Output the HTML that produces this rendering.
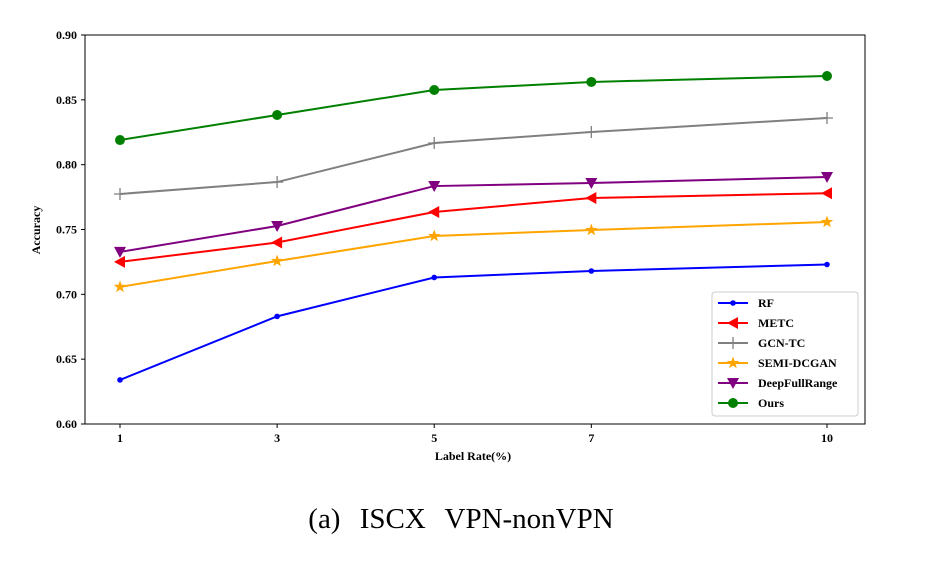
<!DOCTYPE html>
<html><head><meta charset="utf-8"><style>
body{margin:0;background:#fff;width:934px;height:572px;overflow:hidden}
svg{font-family:"Liberation Serif",serif}
</style></head><body>
<svg id="chart" width="934" height="572" xmlns="http://www.w3.org/2000/svg">
<rect x="85" y="35" width="780" height="389" fill="none" stroke="#000" stroke-width="1"/>
<g id="axes"></g><g id="series"></g><g id="legend"></g>
<text x="473" y="460" font-size="12" font-weight="bold" text-anchor="middle">Label Rate(%)</text>
<text x="40" y="230" font-size="12" font-weight="bold" text-anchor="middle" transform="rotate(-90 40 230)">Accuracy</text>
<text x="461" y="528" font-size="29" word-spacing="12" text-anchor="middle">(a) ISCX VPN-nonVPN</text>
</svg>
<script>
const categories=[1,3,5,7,10];
const yTicks=[0.60,0.65,0.70,0.75,0.80,0.85,0.90];
const seriesNames=["RF","METC","GCN-TC","SEMI-DCGAN","DeepFullRange","Ours"];
const seriesColors=["#0000ff","#ff0000","#808080","#ffa500","#800080","#008000"];
const seriesMarkers=["dot","tri-left","plus","star","tri-down","circle"];
const rf=[0.634,0.683,0.713,0.718,0.723];
const metc=[0.725,0.740,0.7635,0.7743,0.778];
const gcn=[0.7774,0.7866,0.8167,0.8252,0.836];
const semi=[0.7057,0.7257,0.745,0.7496,0.7558];
const deep=[0.7327,0.7527,0.7835,0.7859,0.7905];
const ours=[0.819,0.8383,0.8576,0.8638,0.8684];
const allSeries=[rf,metc,gcn,semi,deep,ours];
const NS="http://www.w3.org/2000/svg";
const xs=v=>120+(v-1)*(827-120)/9;
const ys=v=>424-(v-0.6)/0.3*389;
function el(t,a,p){const e=document.createElementNS(NS,t);for(const k in a)e.setAttribute(k,a[k]);p.appendChild(e);return e;}
const axes=document.getElementById('axes');
categories.forEach(c=>{
 const t=el('line',{x1:xs(c),x2:xs(c),y1:424,y2:428,stroke:'#000'},axes);
 
 
 const l=el('text',{x:xs(c),y:442,'font-size':12,'font-weight':'bold','text-anchor':'middle'},axes);l.textContent=c;
 
 
});
yTicks.forEach(v=>{
 const t=el('line',{x1:81,x2:85,y1:ys(v),y2:ys(v),stroke:'#000'},axes);
 
 
 const l=el('text',{x:77,y:ys(v)+4,'font-size':12,'font-weight':'bold','text-anchor':'end'},axes);l.textContent=v.toFixed(2);
 
 
});
function marker(type,x,y,c,p){
 let m;
 if(type==='dot')m=el('circle',{cx:x,cy:y,r:2.8,fill:c},p);
 else if(type==='circle')m=el('circle',{cx:x,cy:y,r:5,fill:c},p);
 else if(type==='tri-left')m=el('polygon',{points:`${x-6},${y} ${x+5},${y-6} ${x+5},${y+6}`,fill:c},p);
 else if(type==='tri-down')m=el('polygon',{points:`${x-6},${y-5} ${x+6},${y-5} ${x},${y+6}`,fill:c},p);
 else if(type==='plus')m=el('path',{d:`M${x-6} ${y}H${x+6}M${x} ${y-6}V${y+6}`,stroke:c,'stroke-width':1.3},p);
 else {let pts=[];for(let i=0;i<10;i++){const r=i%2?2.6:6.5,a=-Math.PI/2+i*Math.PI/5;pts.push((x+r*Math.cos(a)).toFixed(1)+','+(y+r*Math.sin(a)).toFixed(1));}m=el('polygon',{points:pts.join(' '),fill:c},p);}
 return m;
}
const sg=document.getElementById('series');
allSeries.forEach((s,i)=>{
 const c=seriesColors[i];
 const pl=el('polyline',{points:s.map((v,j)=>xs(categories[j])+','+ys(v)).join(' '),fill:'none',stroke:c,'stroke-width':2},sg);
 
 
 s.forEach((v,j)=>{const m=marker(seriesMarkers[i],xs(categories[j]),ys(v),c,sg);
  
  });
});
const lg=document.getElementById('legend');
const box=el('rect',{x:712,y:292,width:146,height:124,fill:'#fff',stroke:'#ccc',rx:3},lg);


seriesNames.forEach((n,i)=>{
 const y=303+i*20,c=seriesColors[i];
 el('line',{x1:718,x2:748,y1:y,y2:y,stroke:c,'stroke-width':2},lg);
 marker(seriesMarkers[i],733,y,c,lg);
 const t=el('text',{x:758,y:y+4,'font-size':12,'font-weight':'bold'},lg);t.textContent=n;
 
 
});
</script>
</body></html>
